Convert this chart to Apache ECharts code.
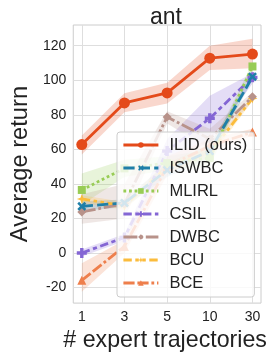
<!DOCTYPE html>
<html><head><meta charset="utf-8">
<script src="https://cdn.jsdelivr.net/npm/echarts@6/dist/echarts.min.js"></script>
<style>html,body{margin:0;padding:0;background:#fff}#c{width:266px;height:357px}</style>
</head><body><div id="c"></div>
<script>
const xLabels = ['1','3','5','10','30'];
const xPos = [0,1,2,3,4];
const yTicks = [-20,0,20,40,60,80,100,120];
const names = ['ILID (ours)','ISWBC','MLIRL','CSIL','DWBC','BCU','BCE'];
const ilid = [62.8, 86.9, 92.7, 112.8, 115.2];
const ilidLo = [57, 81.5, 86.5, 106, 107];
const ilidHi = [68, 92.5, 98.5, 120, 124];
const iswbc = [27, 29, 48, 59, 102];
const iswbcLo = [24.5, 26.5, 44, 55, 100];
const iswbcHi = [30, 31, 52, 63, 104];
const mlirl = [36.5, 49, 52, 55, 108];
const mlirlLo = [28, 44, 48, 50, 106];
const mlirlHi = [46, 54, 56, 60, 110];
const csil = [0, 9, 59, 78, 101.7];
const csilLo = [-2, 7, 50, 65, 98];
const csilHi = [2, 11, 66, 91, 104];
const dwbc = [23.8, 28.5, 78.8, 66, 90.5];
const dwbcLo = [17, 20, 75, 60, 88];
const dwbcHi = [34, 40, 82, 72, 93];
const bcu = [31.3, 27.3, 50, 58, 89.5];
const bcuLo = [29, 25, 47, 55, 88];
const bcuHi = [33.5, 29.5, 53, 61, 91];
const bce = [-15.8, 3.8, 50, 62, 70];
const bceLo = [-22.5, 0, 45, 58, 68];
const bceHi = [-6, 7.5, 56, 66, 72];

const colors = ['#e44a1a','#1f7fa8','#98cc55','#8466d4','#b8928a','#fbbc3c','#ee7f4c'];
const vals = [ilid, iswbc, mlirl, csil, dwbc, bcu, bce];
const los = [ilidLo, iswbcLo, mlirlLo, csilLo, dwbcLo, bcuLo, bceLo];
const his = [ilidHi, iswbcHi, mlirlHi, csilHi, dwbcHi, bcuHi, bceHi];
const LW = 2.8;
const dashUnits = [null, [4,1.5], [1,1], [3,1.25,1.5,1.25], [5,1,1,1], [3,1.25,1.25,1.25,1.25,1.25], [4,1,4,1,1,1]];
const dashes = dashUnits.map(d => d ? d.map(v => v * LW) : 'solid');
const symbols = ['circle',
  'path://M2,0 L5,3 L8,0 L10,2 L7,5 L10,8 L8,10 L5,7 L2,10 L0,8 L3,5 L0,2 Z',
  'rect',
  'path://M3.3,0 H6.7 V3.3 H10 V6.7 H6.7 V10 H3.3 V6.7 H0 V3.3 H3.3 Z',
  'diamond',
  'path://M5,0 L6.3,3.7 L10,5 L6.3,6.3 L5,10 L3.7,6.3 L0,5 L3.7,3.7 Z',
  'triangle'];
const sizes = [11, 9, 8, 10, 9, 10, 9];
const FONT = 'Liberation Sans';

const series = [];
for (let s = 0; s < names.length; s++) {
  const lo = los[s], hi = his[s], col = colors[s];
  series.push({
    type: 'custom', name: names[s] + ' band', silent: true, z: 1,
    data: [[0, 0]],
    renderItem: function (params, api) {
      const pts = [];
      for (let i = 0; i < xPos.length; i++) pts.push(api.coord([xPos[i], hi[i]]));
      for (let i = xPos.length - 1; i >= 0; i--) pts.push(api.coord([xPos[i], lo[i]]));
      return { type: 'polygon', shape: { points: pts }, style: { fill: col, opacity: 0.22 } };
    }
  });
}
for (let s = names.length - 1; s >= 0; s--) {
  series.push({
    type: 'line', name: names[s], z: s === 0 ? 4 : 3,
    data: xPos.map((x, i) => [x, vals[s][i]]),
    symbol: symbols[s], symbolSize: sizes[s], showSymbol: true,
    lineStyle: { color: colors[s], width: LW, type: dashes[s] },
    itemStyle: { color: colors[s], borderWidth: 0 },
    emphasis: { disabled: true }, animation: false
  });
}

const chart = echarts.init(document.getElementById('c'), null, { renderer: 'canvas' });
chart.setOption({
  animation: false,
  title: { text: 'ant', left: 161, textAlign: 'center', top: 1,
    textStyle: { fontFamily: FONT, fontSize: 23, fontWeight: 'normal', color: '#222' } },
  grid: { left: 61, right: 5, top: 25, bottom: 50, show: true, borderColor: '#cccccc', borderWidth: 1 },
  xAxis: {
    type: 'value', min: -0.2, max: 4.2,
    name: '# expert trajectories', nameLocation: 'middle', nameGap: 17,
    nameTextStyle: { fontFamily: FONT, fontSize: 23.2, color: '#222', padding: [0, 4, 0, 0] },
    axisLine: { show: false }, axisTick: { show: false, customValues: xPos },
    axisLabel: { customValues: xPos, formatter: v => xLabels[Math.round(v)], fontFamily: FONT, fontSize: 14, color: '#222', margin: 7 },
    splitLine: { show: true, lineStyle: { color: '#dedede', width: 1 } }
  },
  yAxis: {
    type: 'value', min: -29, max: 132,
    name: 'Average return', nameLocation: 'middle', nameGap: 35,
    nameTextStyle: { fontFamily: FONT, fontSize: 23.7, color: '#222' },
    axisLine: { show: false }, axisTick: { show: false, customValues: yTicks },
    axisLabel: { customValues: yTicks, fontFamily: FONT, fontSize: 14, color: '#222', margin: 7 },
    splitLine: { show: true, lineStyle: { color: '#dedede', width: 1 } }
  },
  legend: {
    data: names, orient: 'vertical', left: 117, top: 132,
    itemWidth: 35, itemHeight: 7, itemGap: 3,
    padding: [3, 7, 4, 5],
    lineStyle: { width: LW },
    backgroundColor: 'rgba(255,255,255,0.8)', borderColor: '#cccccc', borderWidth: 1, borderRadius: 3,
    textStyle: { fontFamily: FONT, fontSize: 16.5, color: '#222', lineHeight: 20, padding: [0, 0, 0, 6] }
  },
  series: series
});
</script></body></html>
